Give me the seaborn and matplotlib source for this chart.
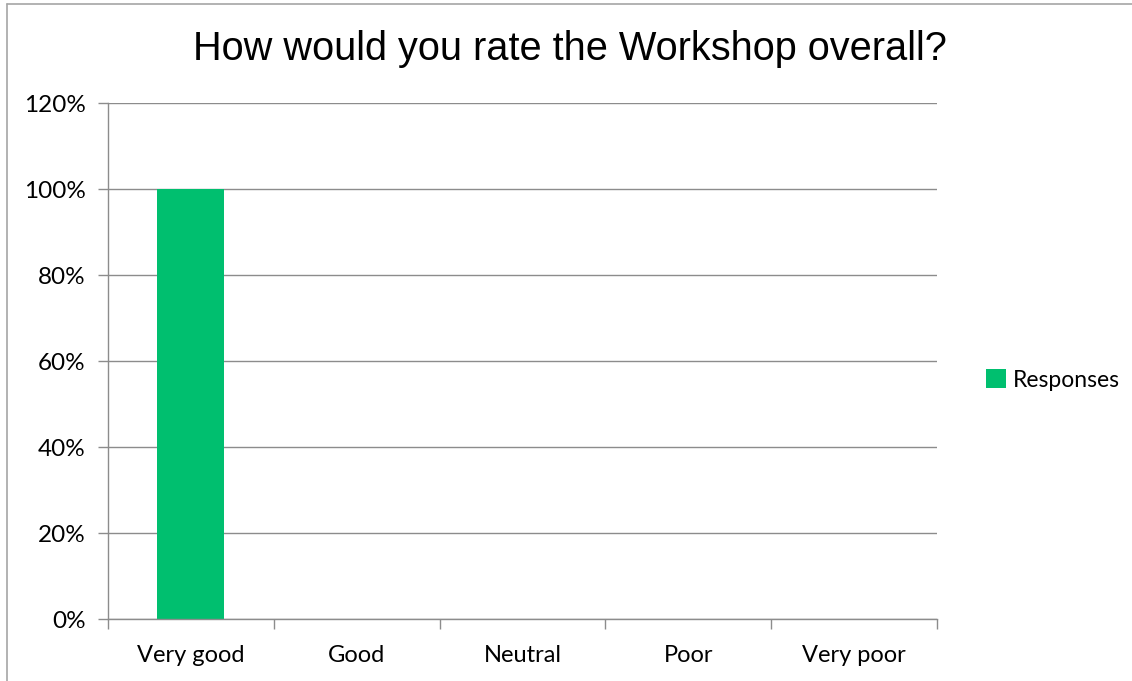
import numpy as np
import pandas as pd
import seaborn as sns
import matplotlib
matplotlib.use("Agg")
import matplotlib.pyplot as plt
from matplotlib.lines import Line2D
from matplotlib.patches import Patch
from matplotlib.ticker import FuncFormatter

# data
categories = ["Very good", "Good", "Neutral", "Poor", "Very poor"]
responses = [1.00, 0.0, 0.0, 0.0, 0.0]
series_name = "Responses"
title = "How would you rate the Workshop overall?"

df = pd.DataFrame({"rating": categories, "share": responses})

sns.set_theme(style="white")
plt.rcParams["font.family"] = ["Lato", "DejaVu Sans"]
plt.rcParams["text.color"] = "black"

green = "#00BF6F"
grid_grey = "#8C8C8C"

fig = plt.figure(figsize=(11.32, 6.81), dpi=100)
ax = fig.add_axes([108 / 1132, 62 / 681, 829 / 1132, 516 / 681])

sns.barplot(data=df, x="rating", y="share", color=green, width=0.404,
            saturation=1, linewidth=0, edgecolor="none", ax=ax)

ax.set_xlim(-0.5, len(categories) - 0.5)
ax.set_ylim(0, 1.2)
ax.set_yticks(np.arange(0, 1.21, 0.2))
ax.yaxis.set_major_formatter(FuncFormatter(lambda v, p: f"{v * 100:.0f}%"))

# excel style: ticks between categories, labels centred
ax.set_xticks(np.arange(-0.5, len(categories), 1.0))
ax.set_xticklabels([])
ax.set_xticks(np.arange(len(categories)), minor=True)
ax.set_xticklabels(categories, minor=True)
ax.tick_params(axis="x", which="major", direction="out", length=7,
               width=1, color=grid_grey, bottom=True)
ax.tick_params(axis="x", which="minor", length=0, pad=19, labelsize=17,
               labelcolor="black")
ax.tick_params(axis="y", direction="out", length=7, width=1,
               color=grid_grey, left=True, pad=9, labelsize=17.5,
               labelcolor="black")

ax.yaxis.grid(True, color=grid_grey, linewidth=1)
ax.set_axisbelow(True)
for side in ["top", "right"]:
    ax.spines[side].set_visible(False)
for side in ["left", "bottom"]:
    ax.spines[side].set_color(grid_grey)
    ax.spines[side].set_linewidth(1)

ax.set_xlabel("")
ax.set_ylabel("")

fig.text(570 / 1132, 1 - 49 / 681, title, ha="center", va="center",
         fontsize=28.6, color="black",
         family=["Liberation Sans", "DejaVu Sans"])

handles = [Patch(facecolor=green, edgecolor="none", label=series_name)]
fig.legend(handles=handles, loc="center left",
           bbox_to_anchor=(977 / 1132, 1 - 380 / 681), frameon=False,
           fontsize=16.5, handlelength=0.85, handleheight=0.85,
           handletextpad=0.3, borderaxespad=0, labelcolor="black")

# chart border (top and left edges visible in the reference)
fig.add_artist(Line2D([7 / 1132, 1], [1 - 4 / 681, 1 - 4 / 681],
                      transform=fig.transFigure, color="#A6A6A6", lw=1.2))
fig.add_artist(Line2D([7 / 1132, 7 / 1132], [0, 1 - 4 / 681],
                      transform=fig.transFigure, color="#A6A6A6", lw=1.2))

fig.savefig("out.png", dpi=100)
